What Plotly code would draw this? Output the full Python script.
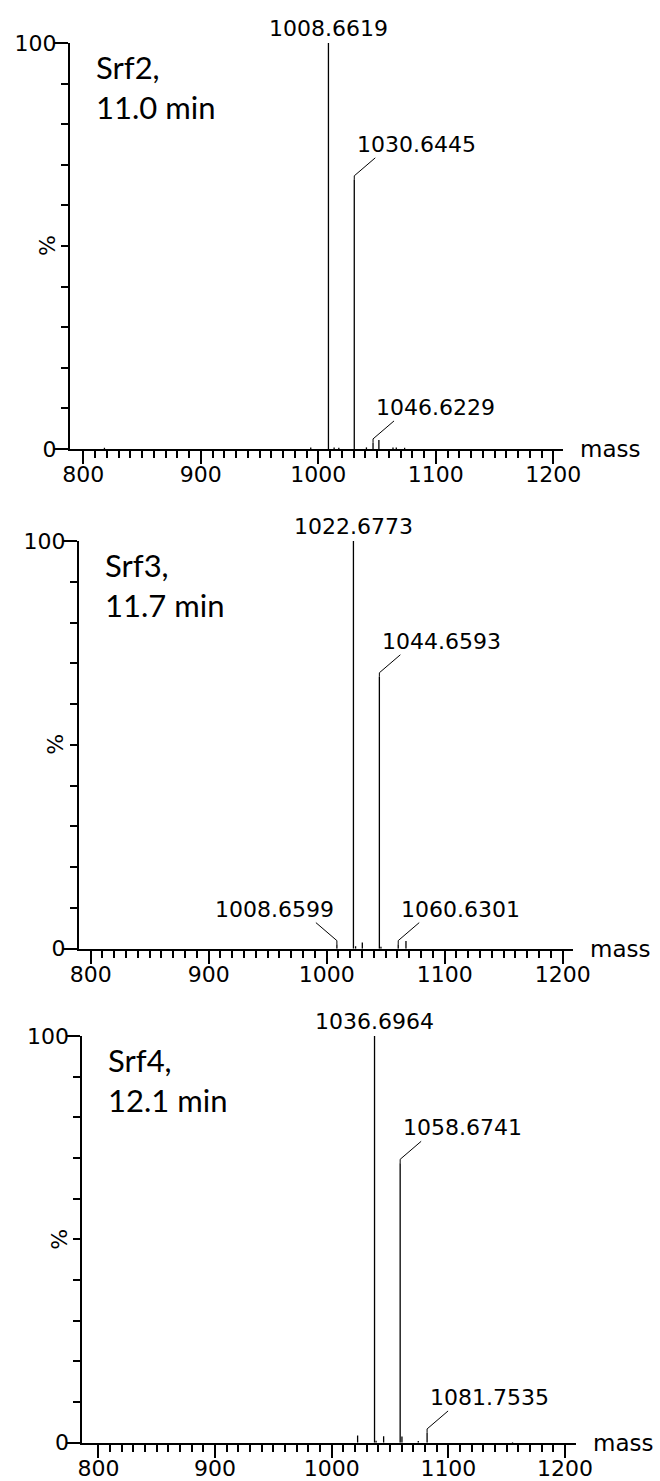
import plotly.graph_objects as go

W, H = 660, 1481

# ---------------- data ----------------
panel_titles = ["Srf2,<br>11.0 min", "Srf3,<br>11.7 min", "Srf4,<br>12.1 min"]

srf2_mz = [818.0, 993.6, 1008.6619, 1013.5, 1017.5, 1030.6445, 1041.0, 1046.6229, 1051.6, 1063.6, 1066.4, 1073.5]
srf2_int = [0.3, 0.4, 100.0, 0.4, 0.3, 66.3, 0.4, 1.5, 2.2, 0.4, 0.4, 0.3]
srf2_labels = [1008.6619, 1030.6445, 1046.6229]
srf2_label_side = ["top", "right", "right"]

srf3_mz = [1008.6599, 1022.6773, 1024.5, 1030.2, 1044.6593, 1046.0, 1060.6301, 1067.2]
srf3_int = [1.0, 100.0, 0.6, 1.5, 66.7, 0.5, 1.0, 1.9]
srf3_labels = [1008.6599, 1022.6773, 1044.6593, 1060.6301]
srf3_label_side = ["left", "top", "right", "right"]

srf4_mz = [1022.2, 1036.6964, 1038.0, 1044.5, 1058.6741, 1060.2, 1074.2, 1081.7535, 1155.0]
srf4_int = [1.8, 100.0, 0.5, 1.6, 68.7, 1.5, 0.4, 2.4, 0.2]
srf4_labels = [1036.6964, 1058.6741, 1081.7535]
srf4_label_side = ["top", "right", "right"]

x_major = list(range(800, 1201, 50))
x_ticktext = [str(v) if v % 100 == 0 else "" for v in x_major]
x_minor = list(range(800, 1201, 10))
y_major = [0, 100]
y_ticktext = ["0", "100"]
y_minor = list(range(0, 101, 10))

panels = [
    (srf2_mz, srf2_int, srf2_labels, srf2_label_side),
    (srf3_mz, srf3_int, srf3_labels, srf3_label_side),
    (srf4_mz, srf4_int, srf4_labels, srf4_label_side),
]

# ---------------- layout geometry (pixels) ----------------
# (axis_left, axis_right, top(100%), bottom(0%), xrange)
geom = [
    (70.0, 563.0, 43.0, 449.0, [788.7, 1208.3]),
    (79.0, 572.7, 541.0, 948.7, [790.1, 1208.5]),
    (82.3, 576.0, 1036.0, 1442.7, [786.2, 1209.4]),
]

def px(x):
    return x / W

def py(y):
    return 1 - y / H

LABEL_FONT = dict(family="DejaVu Sans", size=22, color="black")
TITLE_FONT = dict(family="Lato", size=31, color="black")

fig = go.Figure()
shapes = []
annotations = []

for i, ((mz, inten, labs, sides), (xl, xr, yt, yb, xrng)) in enumerate(zip(panels, geom)):
    n = "" if i == 0 else str(i + 1)
    xs, ys = [], []
    for m, v in zip(mz, inten):
        xs += [m, m, None]
        ys += [0, v, None]
    fig.add_trace(go.Scatter(x=xs, y=ys, mode="lines", xaxis="x" + n, yaxis="y" + n,
                             line=dict(color="black", width=1.3), hoverinfo="skip",
                             showlegend=False, cliponaxis=False))

    fig.layout["xaxis" + n] = dict(
        domain=[px(xl), px(xr)], range=xrng, anchor="y" + n, automargin=False,
        showline=True, linecolor="black", linewidth=2,
        ticks="outside", ticklen=13, tickwidth=1.5, tickcolor="black",
        tickmode="array", tickvals=x_major, ticktext=x_ticktext,
        tickfont=LABEL_FONT, showgrid=False, zeroline=False, ticklabelstandoff=-8,
        minor=dict(tickmode="array", tickvals=x_minor, ticks="outside", ticklen=7,
                   tickwidth=1.5, tickcolor="black", showgrid=False),
    )
    fig.layout["yaxis" + n] = dict(
        domain=[py(yb), py(yt)], range=[0, 100], anchor="x" + n, automargin=False,
        showline=True, linecolor="black", linewidth=2,
        ticks="outside", ticklen=14, tickwidth=1.5, tickcolor="black",
        tickmode="array", tickvals=y_major, ticktext=y_ticktext,
        tickfont=LABEL_FONT, showgrid=False, zeroline=False, ticklabelstandoff=-7,
        minor=dict(tickmode="array", tickvals=y_minor, ticks="outside", ticklen=7,
                   tickwidth=1.5, tickcolor="black", showgrid=False),
    )

    # peak labels with leader lines
    for m, side in zip(labs, sides):
        v = inten[mz.index(m)]
        txt = f"{m:.4f}"
        if side == "top":
            annotations.append(dict(x=m, y=v, xref="x" + n, yref="y" + n, text=txt,
                                    showarrow=False, xanchor="center", yanchor="bottom",
                                    yshift=0, font=LABEL_FONT))
        else:
            sgn = 1 if side == "right" else -1
            shapes.append(dict(type="path", xref="x" + n, yref="y" + n,
                               xsizemode="pixel", ysizemode="pixel",
                               xanchor=m, yanchor=v,
                               path=f"M0,0 L0,4 L{sgn*21},22",
                               line=dict(color="black", width=1)))
            annotations.append(dict(x=m, y=v, xref="x" + n, yref="y" + n, text=txt,
                                    showarrow=False, xanchor="center", yanchor="bottom",
                                    xshift=sgn * 62, yshift=21, font=LABEL_FONT))

    # panel title
    annotations.append(dict(x=px(xl + 24), y=py(yt + 3), xref="paper", yref="paper",
                            text=panel_titles[i], showarrow=False, xanchor="left",
                            yanchor="top", align="left", font=TITLE_FONT))
    # % label
    annotations.append(dict(x=px(xl - 23), y=py((yt + yb) / 2), xref="paper", yref="paper",
                            text="%", textangle=-90, showarrow=False, xanchor="center",
                            yanchor="middle", font=LABEL_FONT))
    # mass label
    annotations.append(dict(x=px(xr + 15), y=py(yb), xref="paper", yref="paper",
                            text="mass", showarrow=False, xanchor="left", yanchor="middle",
                            font=dict(family="DejaVu Sans", size=23, color="black")))

fig.update_layout(width=W, height=H, margin=dict(l=0, r=0, t=0, b=0, autoexpand=False),
                  paper_bgcolor="white", plot_bgcolor="white", showlegend=False,
                  shapes=shapes, annotations=annotations)

fig.write_html("out.html")
